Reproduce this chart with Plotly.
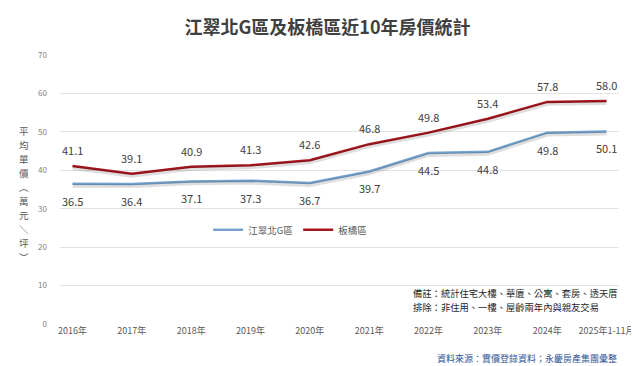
import plotly.graph_objects as go

categories = ["2016年", "2017年", "2018年", "2019年", "2020年", "2021年", "2022年", "2023年", "2024年", "2025年1-11月"]
jiangcui = [36.5, 36.4, 37.1, 37.3, 36.7, 39.7, 44.5, 44.8, 49.8, 50.1]
banqiao = [41.1, 39.1, 40.9, 41.3, 42.6, 46.8, 49.8, 53.4, 57.8, 58.0]
y_ticks = [0, 10, 20, 30, 40, 50, 60, 70]
y_title_chars = ["平", "均", "單", "價", "︵", "萬", "元", "＼", "坪", "︶"]
note_lines = ["備註：統計住宅大樓、華廈、公寓、套房、透天厝", "排除：非住用、一樓、屋齡兩年內與親友交易"]

FONT = "Noto Sans CJK TC"
BLUE = "#76A3CD"
RED = "#A3161D"

fig = go.Figure()

# soft shadows under the lines (on a slightly shifted overlay axis)
for vals in (jiangcui, banqiao):
    fig.add_trace(go.Scatter(x=categories, y=vals, mode="lines", yaxis="y2",
                             line=dict(color="rgba(0,0,0,0.13)", width=4),
                             hoverinfo="skip", showlegend=False))

fig.add_trace(go.Scatter(x=categories, y=jiangcui, mode="lines", name="江翠北G區",
                         line=dict(color=BLUE, width=2.5)))
fig.add_trace(go.Scatter(x=categories, y=banqiao, mode="lines", name="板橋區",
                         line=dict(color=RED, width=2.5)))

for c, v in zip(categories, jiangcui):
    fig.add_annotation(x=c, y=v, text=f"{v:.1f}", showarrow=False, yshift=-17,
                       font=dict(family=FONT, size=11, color="#404040"))
for c, v in zip(categories, banqiao):
    fig.add_annotation(x=c, y=v, text=f"{v:.1f}", showarrow=False, yshift=16,
                       font=dict(family=FONT, size=11, color="#404040"))

fig.update_layout(
    width=639, height=366,
    margin=dict(l=52, r=12, t=47, b=50),
    paper_bgcolor="white", plot_bgcolor="white",
    font=dict(family=FONT, color="#595959"),
    title=dict(text="<b>江翠北G區及板橋區近10年房價統計</b>", x=0.5, xanchor="center",
               y=0.945, yanchor="middle",
               font=dict(family=FONT, size=18, color="#404040")),
    xaxis=dict(type="category", showgrid=False, showline=False, zeroline=False,
               ticks="", tickfont=dict(family=FONT, size=9, color="#595959")),
    yaxis=dict(range=[0, 70], tickvals=y_ticks, showgrid=True, gridcolor="#E3E3E3",
               gridwidth=1, zeroline=False, showline=False, ticks="", ticklabelstandoff=12,
               tickfont=dict(family=FONT, size=8, color="#7F7F7F")),
    yaxis2=dict(range=[0.5, 70.5], overlaying="y", visible=False),
    legend=dict(orientation="h", x=0.265, y=0.35, xanchor="left", yanchor="middle",
                bgcolor="rgba(255,255,255,0)", font=dict(family=FONT, size=9.5, color="#595959"),
                itemwidth=30, traceorder="normal"),
    showlegend=True,
)

# vertical y-axis title, one upright character per annotation
n = len(y_title_chars)
step_px = 14.0
center_px = 186
for i, ch in enumerate(y_title_chars):
    ypx = center_px + (i - (n - 1) / 2) * step_px
    fig.add_annotation(xref="paper", yref="paper", x=-0.064, y=(316 - ypx) / 269,
                       xanchor="center", yanchor="middle", text=ch, showarrow=False,
                       borderpad=0, font=dict(family=FONT, size=9.5, color="#595959"))

for i, line in enumerate(note_lines):
    ypx = 285 + i * 14
    fig.add_annotation(xref="paper", yref="paper", x=0.63, y=(316 - ypx) / 269,
                       xanchor="left", yanchor="middle", showarrow=False, borderpad=0,
                       text=line, font=dict(family=FONT, size=9.3, color="#262626"))

fig.add_annotation(xref="paper", yref="paper", x=1.0, y=-0.13, xanchor="right", yanchor="middle",
                   showarrow=False, text="資料來源：實價登錄資料；永慶房產集團彙整",
                   font=dict(family=FONT, size=9, color="#2F5496"))

fig.write_html("out.html")
